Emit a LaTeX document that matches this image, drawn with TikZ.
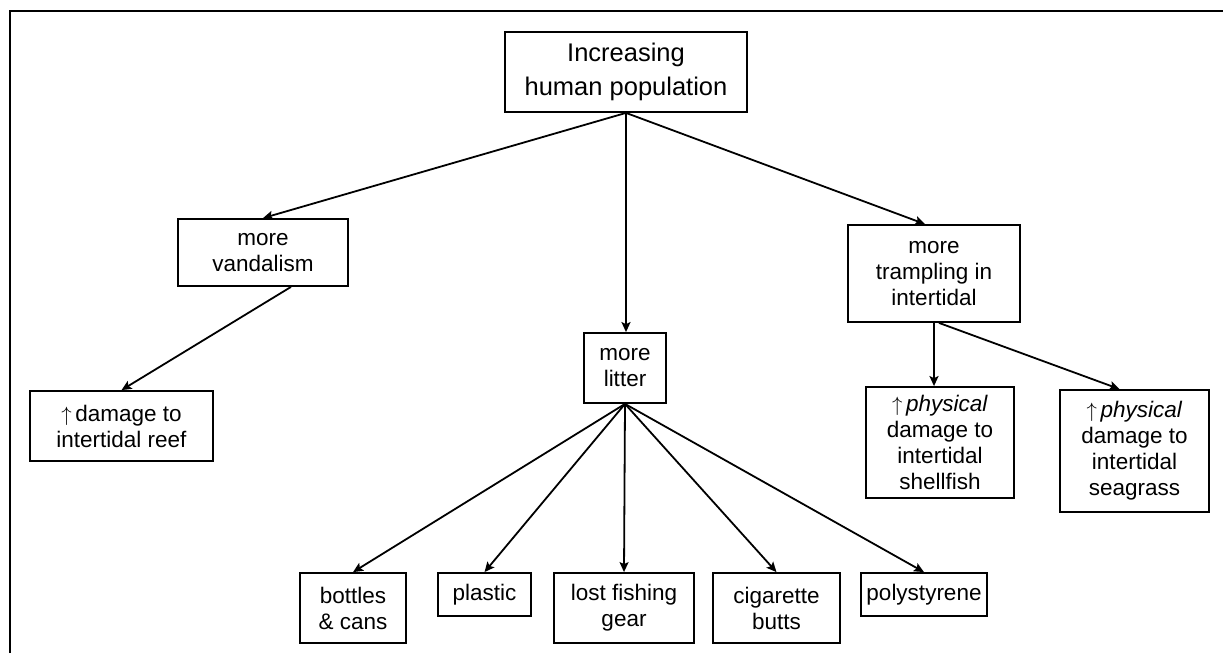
\documentclass[tikz,border=0pt]{standalone}
\usepackage{fontspec}
\setmainfont{Liberation Sans}
\usetikzlibrary{arrows.meta,calc}
\begin{document}
\begin{tikzpicture}[x=1pt,y=-1pt,
  box/.style={draw=black,line width=1.8pt,inner sep=0pt,align=center,
    font=\fontsize{22.5}{26}\selectfont},
  link/.style={line width=1.8pt,-{Stealth[length=10pt,width=9pt,inset=2pt]}}]
\useasboundingbox (0,0) rectangle (1223,653);
% frame
\draw[line width=2pt] (10,653) -- (10,11) -- (1223,11);
% boxes
\node[box,minimum width=242,minimum height=80,font=\fontsize{25.5}{34}\selectfont]
  (top) at (626,72) {Increasing\\human population};
\node[box,minimum width=170,minimum height=67] (vand) at (263,252.5) {more\\vandalism};
\node[box,minimum width=183,minimum height=70] (reef) at (121.5,426) {$\uparrow$\,damage to\\intertidal reef};
\node[box,minimum width=172,minimum height=97] (tramp) at (934,273.5) {more\\trampling in\\intertidal};
\node[box,minimum width=82,minimum height=70] (litter) at (625,368) {more\\litter};
\node[box,minimum width=148,minimum height=111] (shell) at (940,442.5) {$\uparrow$\,\textit{physical}\\damage to\\intertidal\\shellfish};
\node[box,minimum width=149,minimum height=122] (sea) at (1134.5,451) {$\uparrow$\,\textit{physical}\\damage to\\intertidal\\seagrass};
\node[box,minimum width=106,minimum height=70] (bottles) at (353,608) {bottles\\\& cans};
\node[box,minimum width=93,minimum height=43] (plastic) at (484.5,594.5) {plastic};
\node[box,minimum width=140,minimum height=70] (gear) at (624,608) {lost fishing\\gear};
\node[box,minimum width=127,minimum height=70] (butts) at (776.5,608) {cigarette\\butts};
\node[box,minimum width=126,minimum height=43] (poly) at (924,594.5) {polystyrene};
% connectors
\draw[link] (top.south) -- (vand.north);
\draw[link] (top.south) -- (top.south |- litter.north);
\draw[link] (top.south) -- ($(tramp.north)+(-9,0)$);
\draw[link] ($(vand.south)+(28,0)$) -- (reef.north);
\draw[link] (tramp.south) -- (tramp.south |- shell.north);
\draw[link] ($(tramp.south)+(5,0)$) -- ($(sea.north)+(-15,0)$);
\foreach \t in {bottles,plastic,gear,butts,poly}
  \draw[link] (litter.south) -- (\t.north);
\end{tikzpicture}
\end{document}
